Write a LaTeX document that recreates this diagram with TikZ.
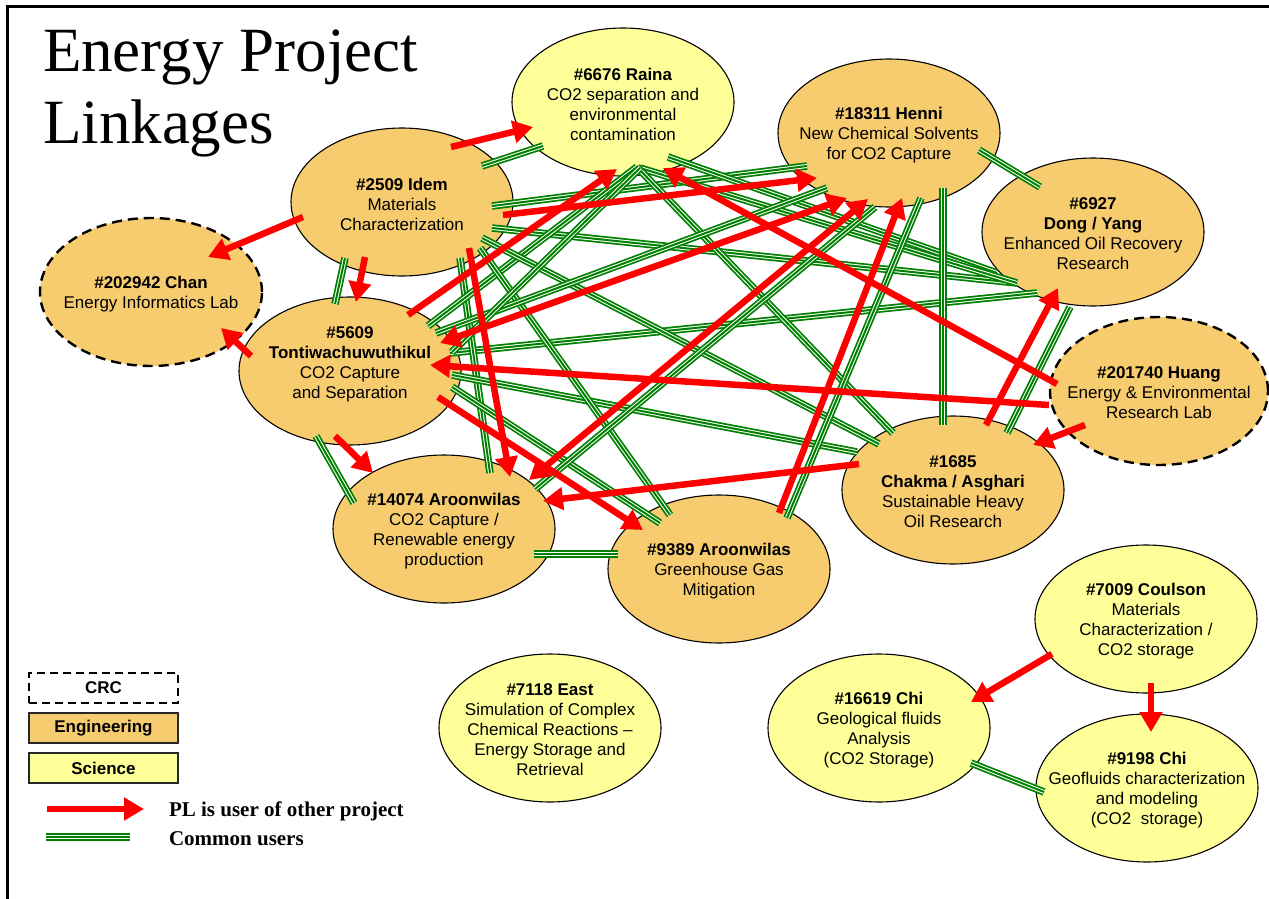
\documentclass[tikz,border=0pt]{standalone}
\usepackage{fontspec}
\setmainfont{Liberation Serif}
\newfontfamily\arialfam{Liberation Sans}
\usetikzlibrary{arrows.meta,shapes.geometric,calc}

\definecolor{engfill}{RGB}{247,204,110}
\definecolor{scifill}{RGB}{255,255,153}
\definecolor{cred}{RGB}{255,0,0}
\definecolor{cgreen}{RGB}{0,128,0}

\begin{document}
\begin{tikzpicture}[x=1pt,y=-1pt,
  every node/.style={inner sep=0pt, outer sep=0pt},
  proj/.style={ellipse, draw=black, line width=1.1pt, minimum width=222pt, minimum height=148pt},
  eng/.style={proj, fill=engfill},
  sci/.style={proj, fill=scifill},
  crc/.style={eng, line width=2.4pt, dash pattern=on 10pt off 6pt},
  projtext/.style={align=center, yshift=-2pt, font=\arialfam\fontsize{17}{20}\selectfont},
  commonlink/.style={draw=cgreen, line width=7.5pt,
    postaction={draw=white, line width=4pt},
    postaction={draw=cgreen, line width=2pt}},
  plarrow/.style={draw=cred, line width=6.5pt, -{Triangle[length=20pt,width=22pt]}},
  plboth/.style={draw=cred, line width=6.5pt,
    {Triangle[length=20pt,width=22pt]}-{Triangle[length=20pt,width=22pt]}},
  keybox/.style={rectangle, draw=black!85, line width=1.3pt, minimum width=149pt,
    minimum height=30pt, font=\arialfam\bfseries\fontsize{17}{20}\selectfont},
  keytext/.style={anchor=base west, font=\bfseries\fontsize{21}{24}\selectfont},
]
\useasboundingbox (0,0) rectangle (1269,899);
\fill[white] (0,0) rectangle (1269,899);

% frame
\draw[line width=3pt] (7,899) -- (7,7) -- (1269,7);

% title
\node[anchor=base west, font=\fontsize{63}{71}\selectfont] (title1) at (43,72) {Energy Project};
\node[anchor=base west, font=\fontsize{63}{71}\selectfont] (title2) at (43,143) {Linkages};

% project ellipses
\node[sci] (raina)   at (623,102) {};
\node[eng] (henni)   at (889,133) {};
\node[eng] (idem)    at (402,202) {};
\node[crc] (chan)    at (151,292) {};
\node[eng] (tonti)   at (350,371) {};
\node[eng] (dong)    at (1093,232) {};
\node[crc, minimum width=218pt] (huang) at (1159,391) {};
\node[eng] (chakma)  at (953,490) {};
\node[eng] (aroA)    at (444,529) {};
\node[eng] (aroB)    at (719,569) {};
\node[sci] (coulson) at (1146,619) {};
\node[sci] (chiA)    at (879,728) {};
\node[sci] (chiB)    at (1147,788) {};
\node[sci] (east)    at (550,728) {};

% common users
\draw[commonlink] ($(idem)+(80,-36)$) -- ($(raina)+(-80,44)$);
\draw[commonlink] ($(henni)+(90,17)$) -- ($(dong)+(-53,-45)$);
\draw[commonlink] ($(idem)+(90,4)$) -- ($(henni)+(-82,33)$);
\draw[commonlink] ($(idem)+(90,26)$) -- ($(dong)+(-76,51)$);
\draw[commonlink] ($(raina)+(45,55)$) -- ($(dong)+(-96,41)$);
\draw[commonlink] ($(raina)+(17,66)$) -- ($(dong)+(-76,51)$);
\draw[commonlink] ($(tonti)+(100,-18)$) -- ($(dong)+(-56,61)$);
\draw[commonlink] ($(henni)+(54,55)$) -- ($(chakma)+(-10,-65)$);
\draw[commonlink] ($(dong)+(-23,75)$) -- ($(chakma)+(54,-57)$);
\draw[commonlink] ($(idem)+(58,56)$) -- ($(aroA)+(46,-56)$);
\draw[commonlink] ($(idem)+(-57,56)$) -- ($(tonti)+(-15,-67)$);
\draw[commonlink] ($(tonti)+(-34,65)$) -- ($(aroA)+(-90,-26)$);
\draw[commonlink] ($(aroA)+(90,25)$) -- ($(aroB)+(-101,-15)$);
\draw[commonlink] ($(chiA)+(92,35)$) -- ($(chiB)+(-103,4)$);
\draw[commonlink] ($(raina)+(14,65)$) -- ($(tonti)+(78,-45)$);
\draw[commonlink] ($(raina)+(14,65)$) -- ($(chakma)+(-60,-57)$);
\draw[commonlink] ($(idem)+(80,36)$) -- ($(chakma)+(-74,-46)$);
\draw[commonlink] ($(tonti)+(102,4)$) -- ($(chakma)+(-96,-38)$);
\draw[commonlink] ($(tonti)+(102,16)$) -- ($(aroB)+(-59,-46)$);
\draw[commonlink] ($(idem)+(78,46)$) -- ($(aroB)+(-49,-54)$);
\draw[commonlink] ($(aroA)+(91,-40)$) -- ($(henni)+(-14,74)$);
\draw[commonlink] ($(henni)+(32,65)$) -- ($(aroB)+(68,-51)$);
\draw[commonlink] ($(tonti)+(86,-38)$) -- ($(henni)+(-62,55)$);
\draw[commonlink] ($(raina)+(17,66)$) -- ($(tonti)+(102,-19)$);

% PL is user of other project
\draw[plarrow] ($(idem)+(49,-55)$) -- ($(raina)+(-90,25)$);
\draw[plarrow] ($(idem)+(-99,15)$) -- ($(chan)+(57,-35)$);
\draw[plarrow] ($(idem)+(-37,55)$) -- ($(tonti)+(6,-69)$);
\draw[plarrow] ($(idem)+(101,13)$) -- ($(henni)+(-72,45)$);
\draw[plarrow] ($(idem)+(67,46)$) -- ($(aroA)+(66,-52)$);
\draw[plarrow] ($(tonti)+(58,-56)$) -- ($(raina)+(-6,67)$);
\draw[plboth]  ($(tonti)+(90,-28)$) -- ($(henni)+(-42,65)$);
\draw[plboth]  ($(aroA)+(85,-49)$) -- ($(henni)+(-21,66)$);
\draw[plarrow] ($(aroB)+(60,-56)$) -- ($(henni)+(13,65)$);
\draw[plarrow] ($(huang)+(-102,-7)$) -- ($(raina)+(40,66)$);
\draw[plarrow] ($(huang)+(-110,14)$) -- ($(tonti)+(80,-6)$);
\draw[plarrow] ($(huang)+(-74,34)$) -- ($(chakma)+(80,-45)$);
\draw[plarrow] ($(chakma)+(33,-65)$) -- ($(dong)+(-35,56)$);
\draw[plarrow] ($(chakma)+(-94,-26)$) -- ($(aroA)+(99,-28)$);
\draw[plarrow] ($(tonti)+(88,26)$) -- ($(aroB)+(-76,-39)$);
\draw[plarrow] ($(tonti)+(-99,-15)$) -- ($(chan)+(70,36)$);
\draw[plarrow] ($(tonti)+(-15,65)$) -- ($(aroA)+(-71,-56)$);
\draw[plarrow] ($(coulson)+(-94,35)$) -- ($(chiA)+(92,-26)$);
\draw[plarrow] ($(coulson)+(5,64)$) -- ($(chiB)+(4,-56)$);

% project texts
\node[projtext] (raina-t) at (raina) {\textbf{\#6676 Raina}\\CO2 separation and\\environmental\\contamination};
\node[projtext] (henni-t) at (henni) {\textbf{\#18311 Henni}\\New Chemical Solvents\\for CO2 Capture};
\node[projtext] (idem-t) at (idem) {\textbf{\#2509 Idem}\\Materials\\Characterization};
\node[projtext] (chan-t) at (chan) {\textbf{\#202942 Chan}\\Energy Informatics Lab};
\node[projtext] (tonti-t) at ($(tonti)+(0,-9)$) {\textbf{\#5609}\\\textbf{Tontiwachuwuthikul}\\CO2 Capture\\and Separation};
\node[projtext] (dong-t) at (dong) {\textbf{\#6927}\\\textbf{Dong / Yang}\\Enhanced Oil Recovery\\Research};
\node[projtext] (huang-t) at (huang) {\textbf{\#201740 Huang}\\Energy \& Environmental\\Research Lab};
\node[projtext] (chakma-t) at (chakma) {\textbf{\#1685}\\\textbf{Chakma / Asghari}\\Sustainable Heavy\\Oil Research};
\node[projtext] (aroA-t) at (aroA) {\textbf{\#14074 Aroonwilas}\\CO2 Capture /\\Renewable energy\\production};
\node[projtext] (aroB-t) at (aroB) {\textbf{\#9389 Aroonwilas}\\Greenhouse Gas\\Mitigation};
\node[projtext] (coulson-t) at (coulson) {\textbf{\#7009 Coulson}\\Materials\\Characterization /\\CO2 storage};
\node[projtext] (chiA-t) at (chiA) {\textbf{\#16619 Chi}\\Geological fluids\\Analysis\\(CO2 Storage)};
\node[projtext] (chiB-t) at (chiB) {\textbf{\#9198 Chi}\\Geofluids characterization\\and modeling\\(CO2\ \ storage)};
\node[projtext] (east-t) at (east) {\textbf{\#7118 East}\\Simulation of Complex\\Chemical Reactions –\\Energy Storage and\\Retrieval};

% key
\node[keybox, dash pattern=on 8pt off 5pt, line width=2.2pt, draw=black] (keycrc) at (103.5,688) {CRC};
\node[keybox, fill=engfill] (keyeng) at (103.5,728) {Engineering};
\node[keybox, fill=scifill] (keysci) at (103.5,768) {Science};
\coordinate (keyA1) at (47,809);
\coordinate (keyA2) at (144,809);
\draw[plarrow] (keyA1) -- (keyA2);
\coordinate (keyG1) at (46,837);
\coordinate (keyG2) at (130,837);
\draw[commonlink] (keyG1) -- (keyG2);
\node[keytext] (keyt1) at (169,816) {PL is user of other project};
\node[keytext] (keyt2) at (169,845) {Common users};
\end{tikzpicture}
\end{document}
